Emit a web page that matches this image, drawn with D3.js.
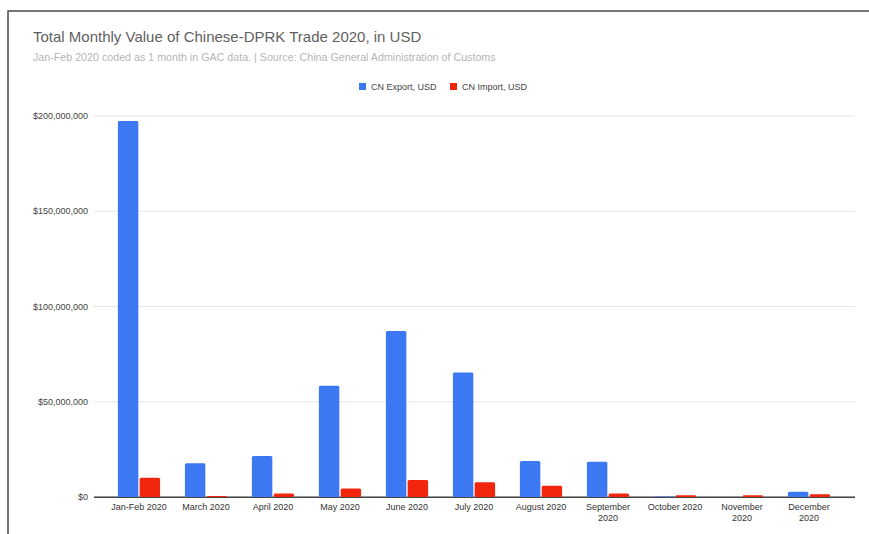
<!DOCTYPE html>
<html>
<head>
<meta charset="utf-8">
<script src="https://cdn.jsdelivr.net/npm/d3@7"></script>
<style>
  body { margin: 0; background: #fff; }
  svg { display: block; font-family: "Liberation Sans", Arial, sans-serif; }
</style>
</head>
<body>
<div id="chart"></div>
<script>
// chart data
const months = ["Jan-Feb 2020", "March 2020", "April 2020", "May 2020", "June 2020", "July 2020",
  "August 2020", "September 2020", "October 2020", "November 2020", "December 2020"];
const exportUsd = [197400000, 17700000, 21500000, 58400000, 87100000, 65400000,
  18900000, 18500000, 300000, 0, 2800000];
const importUsd = [10100000, 500000, 1900000, 4400000, 8900000, 7700000,
  5900000, 1900000, 900000, 900000, 1400000];
const seriesNames = ["CN Export, USD", "CN Import, USD"];
const yTicks = [0, 50000000, 100000000, 150000000, 200000000];

const width = 869, height = 534;
const colors = ["#3b78f1", "#f2260c"];

const svg = d3.select('#chart').append('svg')
  .attr('width', width)
  .attr('height', height);

// frame (top and left edge of screenshot)
svg.append('path')
  .attr('d', `M8,${height} L8,11 L${width},11`)
  .attr('fill', 'none')
  .attr('stroke', '#4a4a4a')
  .attr('stroke-width', 1.5);

// title + subtitle
svg.append('text')
  .attr('x', 33).attr('y', 42)
  .attr('font-size', 15)
  .attr('fill', '#5f5f5f')
  .text('Total Monthly Value of Chinese-DPRK Trade 2020, in USD');
svg.append('text')
  .attr('x', 33).attr('y', 61)
  .attr('font-size', 10.7)
  .attr('fill', '#b5b5b5')
  .text('Jan-Feb 2020 coded as 1 month in GAC data. | Source: China General Administration of Customs');

// scales
const x = d3.scaleBand().domain(months).range([105.5, 842.5]).paddingInner(0.37).paddingOuter(0.185);
const xSub = d3.scaleBand().domain([0, 1]).range([0, x.bandwidth()]).paddingInner(0.06);
const y = d3.scaleLinear().domain([0, 200000000]).range([497, 116]);

// gridlines
svg.append('g')
  .selectAll('line')
  .data(yTicks)
  .join('line')
  .attr('x1', 94).attr('x2', 855)
  .attr('y1', d => y(d)).attr('y2', d => y(d))
  .attr('stroke', d => d === 0 ? '#333' : '#e6e6e6')
  .attr('stroke-width', 1);

// y labels
svg.append('g')
  .selectAll('text')
  .data(yTicks)
  .join('text')
  .attr('x', 88)
  .attr('y', d => y(d) + 3)
  .attr('text-anchor', 'end')
  .attr('font-size', 9)
  .attr('fill', '#444')
  .text(d => '$' + d3.format(',')(d));

// bars
const groups = svg.append('g')
  .selectAll('g')
  .data(months)
  .join('g')
  .attr('transform', d => `translate(${x(d)},0)`);

groups.selectAll('rect')
  .data((d, i) => [exportUsd[i], importUsd[i]])
  .join('rect')
  .attr('x', (d, j) => xSub(j))
  .attr('y', d => y(d))
  .attr('width', xSub.bandwidth())
  .attr('height', d => y(0) - y(d))
  .attr('rx', 1.5)
  .attr('fill', (d, j) => colors[j]);

// redraw baseline on top
svg.append('line')
  .attr('x1', 94).attr('x2', 855)
  .attr('y1', y(0) + 0.5).attr('y2', y(0) + 0.5)
  .attr('stroke', '#444');

// x labels (wrap long ones)
const xl = svg.append('g')
  .selectAll('text')
  .data(months)
  .join('text')
  .attr('x', d => x(d) + x.bandwidth() / 2)
  .attr('y', 510)
  .attr('text-anchor', 'middle')
  .attr('font-size', 9)
  .attr('fill', '#333');
xl.each(function(d) {
  const t = d3.select(this);
  const parts = d.length > 12 ? d.split(' ') : [d];
  parts.forEach((p, k) => {
    t.append('tspan')
      .attr('x', x(d) + x.bandwidth() / 2)
      .attr('dy', k === 0 ? 0 : 11)
      .text(p);
  });
});

// legend
const legendX = [359, 450];
const lg = svg.append('g')
  .selectAll('g')
  .data(seriesNames)
  .join('g')
  .attr('transform', (d, i) => `translate(${legendX[i]},83)`);
lg.append('rect')
  .attr('width', 7).attr('height', 7)
  .attr('fill', (d, i) => colors[i]);
lg.append('text')
  .attr('x', 12).attr('y', 7)
  .attr('font-size', 9)
  .attr('fill', '#444')
  .text(d => d);
</script>
</body>
</html>
